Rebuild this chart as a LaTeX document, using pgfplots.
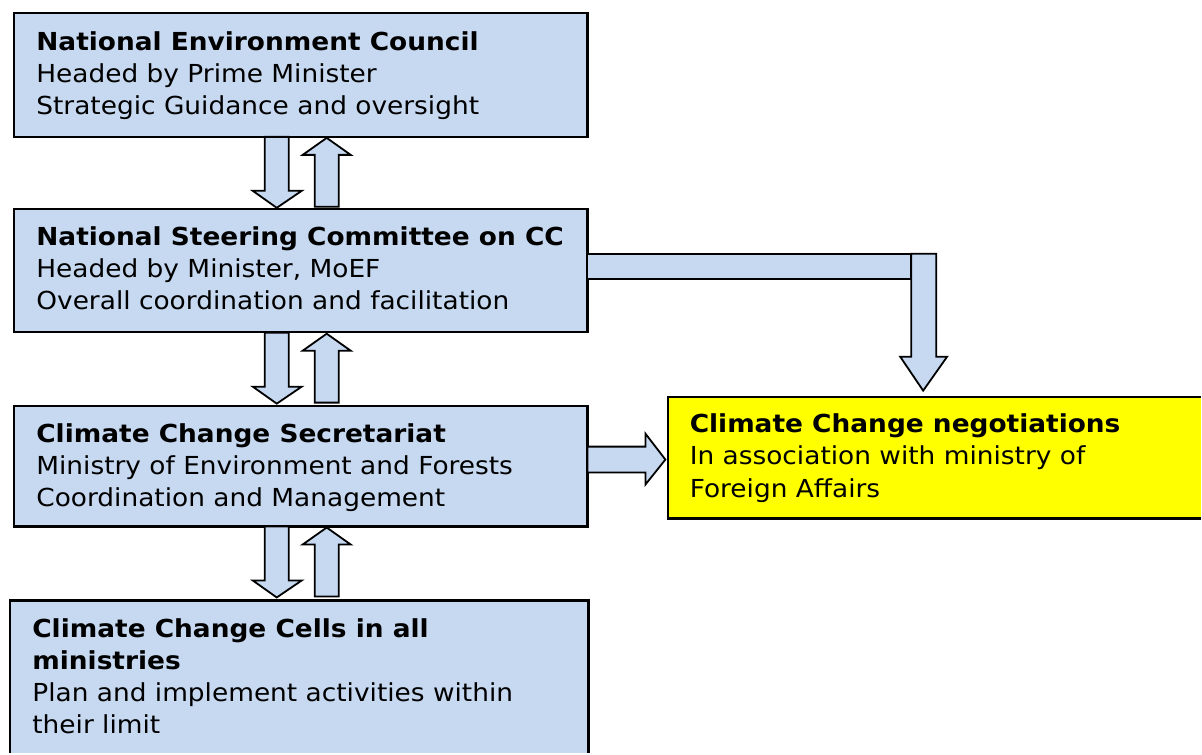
\documentclass[border=0pt]{standalone}
\usepackage{pgfplots}
\pgfplotsset{compat=1.18}
\usepackage{fontspec}
\setmainfont[FakeStretch=1.065]{DejaVu Sans}
\definecolor{boxblue}{RGB}{198,217,241}
\definecolor{boxyel}{RGB}{255,255,0}
\newcommand{\boxfont}{\fontsize{12.4pt}{16pt}\selectfont}
\begin{document}
\begin{tikzpicture}
\begin{axis}[scale only axis, width=601pt, height=377pt,
  xmin=0, xmax=1202, ymin=0, ymax=754, y dir=reverse,
  hide axis, clip=false]
\path (0,0) rectangle (1202,754);
% boxes
\draw[line width=1.1pt, fill=boxblue] (14,13) rectangle (588,137);
\draw[line width=1.1pt, fill=boxblue] (14,209) rectangle (588,332);
\draw[line width=1.1pt, fill=boxblue] (14,406) rectangle (588,527);
\fill[boxblue] (10,601) rectangle (589,754);
\draw[line width=1.1pt] (10,754) -- (10,601) -- (589,601) -- (589,754);
\fill[boxyel] (669,397) rectangle (1202,519);
\draw[line width=1.1pt] (1202,397) -- (669,397) -- (669,519) -- (1202,519);
% vertical arrow pairs
\pgfplotsinvokeforeach{0,196,390}{
  \draw[line width=0.9pt, fill=boxblue, line join=miter]
    (265,137+#1) -- (289,137+#1) -- (289,191+#1) -- (302,191+#1) -- (277,208+#1)
    -- (253,191+#1) -- (265,191+#1) -- cycle;
  \draw[line width=0.9pt, fill=boxblue, line join=miter]
    (315,207+#1) -- (339,207+#1) -- (339,155+#1) -- (351,155+#1) -- (327,138+#1)
    -- (303,155+#1) -- (315,155+#1) -- cycle;
}
% connector from box 2 to negotiations
\draw[line width=0.9pt, fill=boxblue] (588,254) rectangle (912,279);
\draw[line width=0.9pt, fill=boxblue, line join=miter]
  (912,254) -- (937,254) -- (937,357) -- (948,357) -- (924,391) -- (901,357)
  -- (912,357) -- cycle;
% right arrow from box 3
\draw[line width=0.9pt, fill=boxblue, line join=miter]
  (588,447) -- (646,447) -- (646,434) -- (666,460) -- (646,485) -- (646,473)
  -- (588,473) -- cycle;
% texts
\node[anchor=base west, inner sep=0pt, font=\boxfont] at (36,51) {\textbf{National Environment Council}};
\node[anchor=base west, inner sep=0pt, font=\boxfont] at (36,83) {Headed by Prime Minister};
\node[anchor=base west, inner sep=0pt, font=\boxfont] at (36,115) {Strategic Guidance and oversight};
\node[anchor=base west, inner sep=0pt, font=\boxfont] at (36,246) {\textbf{National Steering Committee on CC}};
\node[anchor=base west, inner sep=0pt, font=\boxfont] at (36,278) {Headed by Minister, MoEF};
\node[anchor=base west, inner sep=0pt, font=\boxfont] at (36,310) {Overall coordination and facilitation};
\node[anchor=base west, inner sep=0pt, font=\boxfont] at (36,443) {\textbf{Climate Change Secretariat}};
\node[anchor=base west, inner sep=0pt, font=\boxfont] at (36,475) {Ministry of Environment and Forests};
\node[anchor=base west, inner sep=0pt, font=\boxfont] at (36,507) {Coordination and Management};
\node[anchor=base west, inner sep=0pt, font=\boxfont] at (32,638) {\textbf{Climate Change Cells in all}};
\node[anchor=base west, inner sep=0pt, font=\boxfont] at (32,670) {\textbf{ministries}};
\node[anchor=base west, inner sep=0pt, font=\boxfont] at (32,702) {Plan and implement activities within};
\node[anchor=base west, inner sep=0pt, font=\boxfont] at (32,734) {their limit};
\node[anchor=base west, inner sep=0pt, font=\boxfont] at (690,433) {\textbf{Climate Change negotiations}};
\node[anchor=base west, inner sep=0pt, font=\boxfont] at (690,465) {In association with ministry of};
\node[anchor=base west, inner sep=0pt, font=\boxfont] at (690,498) {Foreign Affairs};
\end{axis}
\end{tikzpicture}
\end{document}
